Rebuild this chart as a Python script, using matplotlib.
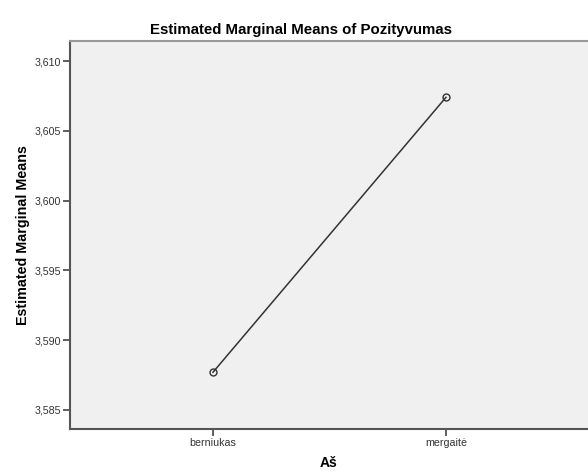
import matplotlib
matplotlib.use('Agg')
import matplotlib.pyplot as plt
from matplotlib.ticker import FuncFormatter

plt.rcParams['font.family'] = ['Liberation Sans', 'DejaVu Sans']

# data
categories = ['berniukas', 'mergaitė']
means = [3.5877, 3.6074]
y_ticks = [3.585, 3.590, 3.595, 3.600, 3.605, 3.610]

fig = plt.figure(figsize=(5.88, 4.74), dpi=100)
ax = fig.add_axes([70 / 588, 45 / 474, 518 / 588, 388 / 474])
ax.set_facecolor('#f0f0f0')

x = list(range(len(categories)))
ax.plot(x, means, color='#333333', linewidth=1.1, marker='o', markersize=5,
        markerfacecolor='none', markeredgecolor='#333333', markeredgewidth=1.0)

ax.set_xlim(-0.614, 1.61)
ax.set_ylim(3.58363, 3.61144)
ax.set_xticks(x)
ax.set_xticklabels(categories)
ax.set_yticks(y_ticks)
ax.yaxis.set_major_formatter(FuncFormatter(lambda v, p: f'{v:.3f}'.replace('.', ',')))
ax.tick_params(axis='both', labelsize=7.7, length=5, width=1.2, color='#444444',
               labelcolor='#333333', pad=1.5)

for side in ['left', 'bottom']:
    ax.spines[side].set_color('#555555')
    ax.spines[side].set_linewidth(1.5)
ax.spines['top'].set_color('#999999')
ax.spines['top'].set_linewidth(1.5)
ax.spines['right'].set_visible(False)

ax.set_xlabel('Aš', fontsize=10, fontweight='bold', labelpad=6)
ax.set_ylabel('Estimated Marginal Means', fontsize=10.3, fontweight='bold', labelpad=3)
fig.text(0.512, 1 - 30 / 474, 'Estimated Marginal Means of Pozityvumas', ha='center',
         va='center', fontsize=10.8, fontweight='bold')

fig.savefig('out.png', dpi=100)
